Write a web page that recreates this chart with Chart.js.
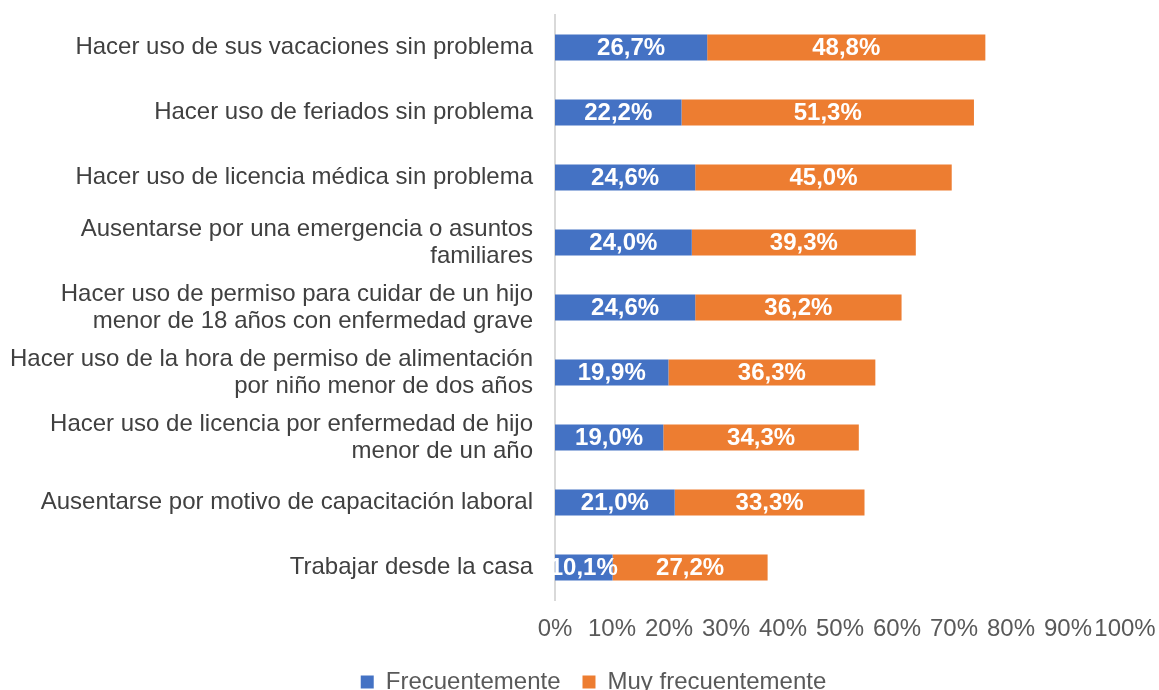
<!DOCTYPE html>
<html><head><meta charset="utf-8">
<script src="https://cdn.jsdelivr.net/npm/chart.js@4/dist/chart.umd.min.js"></script>
<style>html,body{margin:0;padding:0;background:#fff}#wrap{width:1159px;height:690px}</style>
</head><body><div id="wrap"><canvas id="c" width="1159" height="690"></canvas></div>
<script>
const categories = [
  "Hacer uso de sus vacaciones sin problema",
  "Hacer uso de feriados sin problema",
  "Hacer uso de licencia médica sin problema",
  ["Ausentarse por una emergencia o asuntos", "familiares"],
  ["Hacer uso de permiso para cuidar de un hijo", "menor de 18 años con enfermedad grave"],
  ["Hacer uso de la hora de permiso de alimentación", "por niño menor de dos años"],
  ["Hacer uso de licencia por enfermedad de hijo", "menor de un año"],
  "Ausentarse por motivo de capacitación laboral",
  "Trabajar desde la casa"
];
const frecuentemente = [26.7, 22.2, 24.6, 24.0, 24.6, 19.9, 19.0, 21.0, 10.1];
const muyFrecuentemente = [48.8, 51.3, 45.0, 39.3, 36.2, 36.3, 34.3, 33.3, 27.2];
const seriesNames = ["Frecuentemente", "Muy frecuentemente"];
const xTicks = [0,10,20,30,40,50,60,70,80,90,100];

const FONT = "'Liberation Sans', Arial, sans-serif";
Chart.defaults.font.family = FONT;

const labelPlugin = {
  id: 'segLabels',
  afterDatasetsDraw(chart) {
    const ctx = chart.ctx;
    ctx.save();
    ctx.font = "bold 24px " + FONT;
    ctx.fillStyle = "#ffffff";
    ctx.textAlign = "center";
    ctx.textBaseline = "middle";
    chart.data.datasets.forEach((ds, di) => {
      const meta = chart.getDatasetMeta(di);
      meta.data.forEach((bar, i) => {
        const v = ds.data[i];
        const cx = (bar.x + bar.base) / 2;
        ctx.fillText(v.toFixed(1).replace('.', ',') + '%', cx, bar.y + 1);
      });
    });
    ctx.restore();
  }
};

const legendShift = {
  id: 'legendShift',
  afterLayout(chart) { if (chart.legend) chart.legend.left += 62; }
};

new Chart(document.getElementById('c'), {
  type: 'bar',
  data: {
    labels: categories,
    datasets: [
      { label: seriesNames[0], data: frecuentemente, backgroundColor: '#4472C4', barPercentage: 0.4, categoryPercentage: 1.0 },
      { label: seriesNames[1], data: muyFrecuentemente, backgroundColor: '#ED7D31', barPercentage: 0.4, categoryPercentage: 1.0 }
    ]
  },
  options: {
    indexAxis: 'y',
    responsive: false,
    animation: false,
    layout: { padding: { top: 15, right: 34, left: 0, bottom: -14 } },
    scales: {
      x: {
        stacked: true, min: 0, max: 100,
        afterBuildTicks(axis) { axis.ticks = xTicks.map(v => ({ value: v })); },
        grid: { display: false, drawTicks: false },
        border: { display: false },
        ticks: { color: '#595959', font: { size: 24 }, padding: 15, maxRotation: 0, autoSkip: false, callback: v => v + '%' },
        afterFit(axis) { axis.height = 48; axis.paddingLeft = 0; axis.paddingRight = 0; }
      },
      y: {
        stacked: true,
        grid: { display: false, drawTicks: false },
        border: { display: true, color: '#D9D9D9', width: 2 },
        ticks: { color: '#404040', font: { size: 24, lineHeight: 1.12 }, padding: 22, autoSkip: false },
        afterFit(axis) { axis.width = 555; axis.paddingTop = 0; axis.paddingBottom = 0; }
      }
    },
    plugins: {
      legend: {
        position: 'bottom',
        labels: { color: '#595959', font: { size: 24 }, boxWidth: 13, boxHeight: 13, padding: 22 }
      },
      tooltip: { enabled: false }
    }
  },
  plugins: [labelPlugin, legendShift]
});
</script></body></html>
